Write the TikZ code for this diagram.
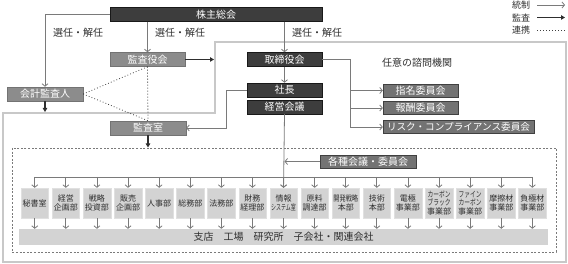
\documentclass[tikz,border=0pt]{standalone}
\usepackage{fontspec}
\usepackage{graphicx}
\setmainfont{Noto Sans CJK JP}
\usetikzlibrary{positioning,arrows.meta,calc}
\definecolor{dkbox}{HTML}{3D3D3D}
\definecolor{mdbox}{HTML}{8C8C8C}
\definecolor{cmbox}{HTML}{737373}
\definecolor{ltbox}{HTML}{D3D3D3}
\definecolor{lncol}{HTML}{7A7A7A}
\definecolor{txcol}{HTML}{2E2E2E}
\definecolor{olcol}{HTML}{C8C8C8}
\newcommand{\narrow}[2][0.72]{\scalebox{#1}[1]{#2}}
\begin{document}
\begin{tikzpicture}[x=1pt,y=-1pt,
  box/.style={minimum height=14pt,inner sep=0pt,font=\fontsize{10}{11}\selectfont,text=white},
  dk/.style={box,fill=dkbox,draw=black!90,line width=0.5pt},
  md/.style={box,fill=mdbox,draw=black!55,line width=0.5pt},
  cmte/.style={box,fill=cmbox,draw=black!75,line width=0.5pt,minimum height=13pt},
  dept/.style={fill=ltbox,draw=black!12,minimum width=27.5pt,minimum height=30pt,inner sep=0pt,align=center,text=txcol},
  dn/.style={font=\fontsize{8}{9.5}\selectfont},
  ds/.style={font=\fontsize{8}{8.6}\selectfont},
  lbl/.style={font=\fontsize{10}{11}\selectfont,text=txcol,inner sep=0pt},
  conn/.style={draw=lncol,line width=0.8pt},
  ctrl/.style={conn,-{Straight Barb[length=2.5pt,width=6pt]}},
  audit/.style={draw=txcol,line width=1.4pt,-{Triangle[length=4pt,width=4.5pt]}},
  link/.style={draw=black!75,line width=0.8pt,dash pattern=on 0.8pt off 2.2pt}]
\useasboundingbox (0,0) rectangle (568,264);
\draw[olcol,line width=1.3pt] (215,42) -- (566,42) -- (566,262) -- (3,262) -- (3,113) -- (215,113) -- cycle;
\draw[lncol,line width=0.8pt,dash pattern=on 2pt off 1.6pt] (12,148) rectangle (556,252);

\node[dk,minimum width=212pt] (sou) at (216,14.5) {株主総会};
\node[md,minimum width=75pt] (kansayaku) at (147.5,59.5) {監査役会};
\node[md,minimum width=76pt] (kaikei) at (45,94) {会計監査人};
\node[md,minimum width=76pt] (kansashitsu) at (148,128) {監査室};
\node[dk,minimum width=75pt] (torishimari) at (284.5,59.5) {取締役会};
\node[dk,minimum width=75pt] (shacho) at (284.5,90) {社長};
\node[dk,minimum width=75pt] (keiei) at (284.5,107) {経営会議};
\node[lbl] (shimon) at (417,63) {任意の諮問機関};
\node[cmte,minimum width=75pt] (shimei) at (420.5,90.5) {指名委員会};
\node[cmte,minimum width=75pt] (hoshu) at (420.5,108) {報酬委員会};
\node[cmte,minimum width=151pt,font=\fontsize{9.6}{11}\selectfont] (risk) at (458.5,127) {リスク・コンプライアンス委員会};
\node[cmte,minimum width=96pt] (kakushu) at (368,161.5) {各種会議・委員会};

\node[lbl] (sen1) at (78,33) {選任・解任};
\node[lbl] (sen2) at (180,33) {選任・解任};
\node[lbl] (sen3) at (317,33) {選任・解任};

\node[fill=ltbox,minimum width=529pt,minimum height=16pt,inner sep=0pt,lbl] (base) at (283.5,237) {支店　工場　研究所　子会社・関連会社};

\foreach \t/\f [count=\i from 0] in {秘書室/dn,{経営\\企画部}/dn,{戦略\\投資部}/dn,{販売\\企画部}/dn,人事部/dn,総務部/dn,法務部/dn,{財務\\経理部}/dn,{情報\\\narrow[0.62]{システム室}}/dn,{原料\\調達部}/dn,{\narrow[0.78]{開発戦略}\\本部}/dn,{技術\\本部}/dn,{電極\\事業部}/dn,{\narrow{カーボン}\\\narrow{ブラック}\\事業部}/ds,{\narrow{ファイン}\\\narrow{カーボン}\\事業部}/ds,{摩擦材\\事業部}/dn,{負極材\\事業部}/dn}
  \node[dept,\f] (d\i) at (34.75+31.1*\i,203) {\t};

\coordinate (busL) at (34.75,177);
\coordinate (busR) at (532.35,177);
\draw[conn] (busL) -- (busR);
\foreach \i in {0,...,16} {
  \draw[ctrl] (d\i.north |- busL) -- (d\i.north);
  \draw[ctrl] (d\i.south) -- (d\i.south |- base.north);
}

\draw[ctrl] (sou.west) -| (kaikei.north);
\draw[ctrl] (kansayaku.north |- sou.south) -- (kansayaku.north);
\draw[ctrl] (torishimari.north |- sou.south) -- (torishimari.north);
\draw[ctrl] (torishimari.south) -- (shacho.north);
\draw[ctrl] (shacho.west) -- ++(-20,0) |- (kansashitsu.east);
\draw[ctrl] (keiei.south) -- (d8.north);
\draw[ctrl] (kakushu.west) -- (kakushu.west -| keiei.south);
\coordinate (br) at (350,59.5);
\draw[conn] (torishimari.east) -- (br);
\foreach \n in {shimei,hoshu,risk}
  \draw[ctrl] (br) |- (\n.west);

\coordinate (kaisha) at (214,59.5);
\coordinate (kaikeiS) at (45,112);
\coordinate (kansashitsuS) at (148,147.5);
\draw[audit] (kansayaku.east) -- (kaisha);
\draw[audit] (kaikei.south) -- (kaikeiS);
\draw[audit] (kansashitsu.south) -- (kansashitsuS);

\draw[link] (kansayaku.south) -- (kaikei.east);
\draw[link] (kaikei.east) -- (kansashitsu.north);
\draw[link] (kansayaku.south) -- (kansashitsu.north);

\node[lbl,font=\fontsize{9}{10}\selectfont] (lg1) at (521,5) {統制};
\node[lbl,font=\fontsize{9}{10}\selectfont] (lg2) at (521,17.5) {監査};
\node[lbl,font=\fontsize{9}{10}\selectfont] (lg3) at (521,30) {連携};
\coordinate (lg1e) at (565,5);
\coordinate (lg2e) at (565,17.5);
\coordinate (lg3e) at (565,30);
\draw[ctrl] ([xshift=7pt]lg1.east) -- (lg1e);
\draw[audit] ([xshift=7pt]lg2.east) -- (lg2e);
\draw[link,line width=0.6pt] ([xshift=7pt]lg3.east) -- (lg3e);
\end{tikzpicture}
\end{document}
